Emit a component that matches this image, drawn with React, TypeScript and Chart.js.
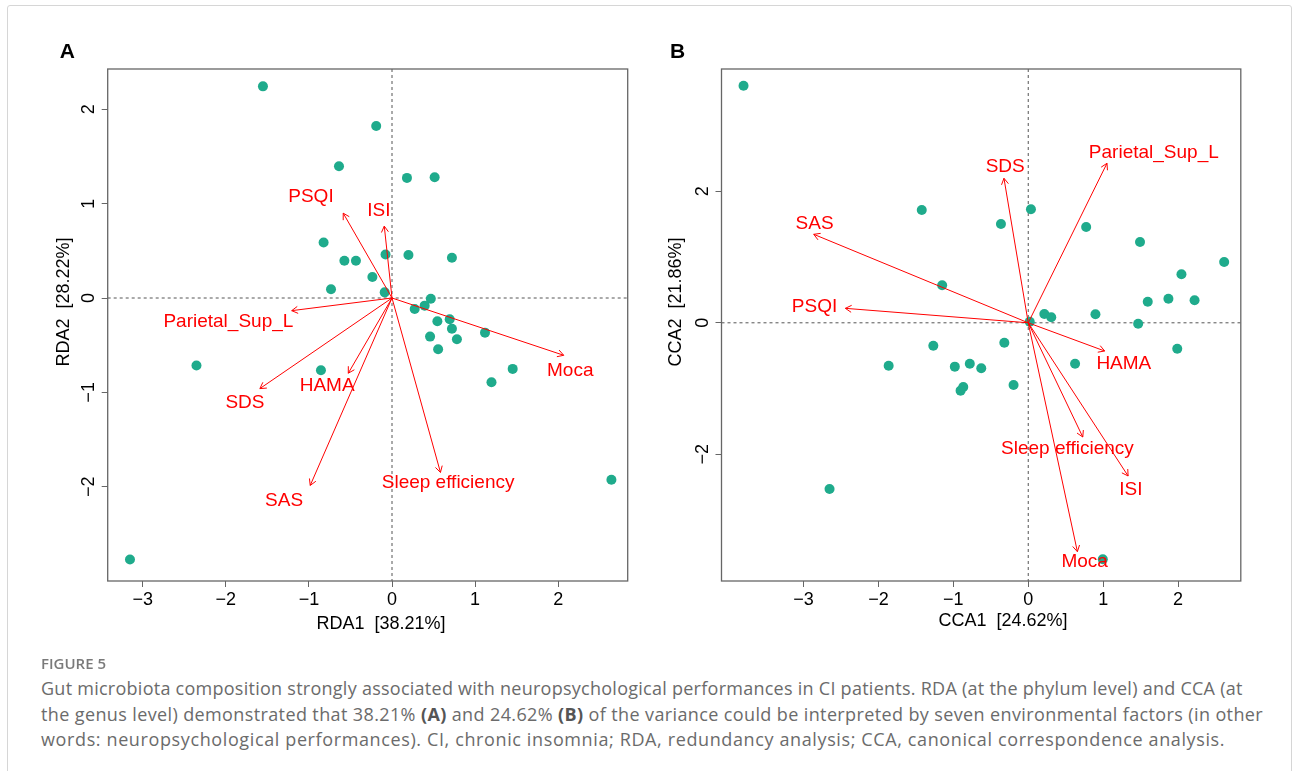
import React, { useEffect, useRef } from "react";
import { Chart, registerables } from "chart.js";

Chart.register(...registerables);

// ---------- DATA ----------
const envNames = ["PSQI", "ISI", "Parietal_Sup_L", "SDS", "HAMA", "SAS", "Sleep efficiency", "Moca"];

// Panel A: RDA (phylum level)
const rdaSiteX = [-1.553, -0.19, -0.638, 0.18, 0.513, -0.823, -0.078, 0.198, 0.721, -0.573, -0.434, -0.236, -0.734, -0.088, 0.467, 0.393, 0.273, 0.546, 0.694, 0.721, 1.119, 0.458, 0.781, 0.555, 1.452, 1.197, -0.855, -2.353, 2.64, -3.153];
const rdaSiteY = [2.243, 1.823, 1.397, 1.273, 1.28, 0.589, 0.462, 0.455, 0.427, 0.395, 0.395, 0.222, 0.092, 0.06, -0.007, -0.081, -0.116, -0.247, -0.226, -0.325, -0.367, -0.409, -0.437, -0.543, -0.751, -0.892, -0.765, -0.716, -1.926, -2.772];
const rdaArrowX = [-0.587, -0.093, -1.207, -1.59, -0.526, -0.984, 0.583, 2.066];
const rdaArrowY = [0.899, 0.762, -0.134, -0.96, -0.797, -1.986, -1.848, -0.607];
const rdaLabelX = [-0.975, -0.157, -1.969, -1.77, -0.781, -1.299, 0.675, 2.145];
const rdaLabelY = [1.072, 0.921, -0.25, -1.108, -0.928, -2.148, -1.961, -0.772];
const rdaXTicks = [-3, -2, -1, 0, 1, 2];
const rdaYTicks = [-2, -1, 0, 1, 2];

// Panel B: CCA (genus level)
const ccaSiteX = [-3.8, -1.421, 0.036, -0.364, 0.773, 1.492, 2.615, 2.045, -1.149, 1.595, 1.871, 2.22, 0.897, 0.215, 0.307, 1.467, 0.02, -1.267, -0.319, -1.863, -0.98, -0.78, -0.627, 0.625, 1.989, -0.196, -0.867, -0.903, -2.652, 0.995];
const ccaSiteY = [3.606, 1.716, 1.726, 1.503, 1.457, 1.229, 0.925, 0.737, 0.57, 0.321, 0.367, 0.342, 0.129, 0.134, 0.084, -0.014, 0.017, -0.348, -0.303, -0.652, -0.667, -0.622, -0.692, -0.622, -0.394, -0.946, -0.976, -1.032, -2.528, -3.597];
const ccaArrowX = [-2.441, 1.333, 1.051, -0.324, 1.02, -2.863, 0.728, 0.656];
const ccaArrowY = [0.22, -2.33, 2.426, 2.198, -0.429, 1.346, -1.737, -3.481];
const ccaLabelX = [-2.852, 1.369, 1.676, -0.308, 1.276, -2.852, 0.523, 0.753];
const ccaLabelY = [0.245, -2.533, 2.587, 2.374, -0.617, 1.503, -1.909, -3.633];
const ccaXTicks = [-3, -2, -1, 0, 1, 2];
const ccaYTicks = [-2, 0, 2];

// ---------- STYLE ----------
const POINT_COLOR = "#1fab8c";
const ARROW_COLOR = "#ff0000";
const AXIS_COLOR = "#666666";
const FONT = "'Liberation Sans', Arial, Helvetica, sans-serif";

type PanelCfg = {
  letter: string;
  xTitle: string;
  yTitle: string;
  left: number;
  top: number;
  width: number;
  height: number;
  padRight: number;
  yAxisWidth: number;
  xMin: number;
  xMax: number;
  yMin: number;
  yMax: number;
  siteX: number[];
  siteY: number[];
  arrowX: number[];
  arrowY: number[];
  labelX: number[];
  labelY: number[];
  xTicks: number[];
  yTicks: number[];
  letterPos: [number, number];
  xTitlePos: [number, number];
  yTitlePos: [number, number];
};

const panels: PanelCfg[] = [
  {
    letter: "A",
    xTitle: "RDA1  [38.21%]",
    yTitle: "RDA2  [28.22%]",
    left: 20,
    top: 20,
    width: 630,
    height: 640,
    padRight: 22.3,
    yAxisWidth: 87.7,
    xMin: -3.421,
    xMax: 2.836,
    yMin: -2.999,
    yMax: 2.427,
    siteX: rdaSiteX,
    siteY: rdaSiteY,
    arrowX: rdaArrowX,
    arrowY: rdaArrowY,
    labelX: rdaLabelX,
    labelY: rdaLabelY,
    xTicks: rdaXTicks,
    yTicks: rdaYTicks,
    letterPos: [47.3, 58 - 20],
    xTitlePos: [361, 604],
    yTitlePos: [44, 282],
  },
  {
    letter: "B",
    xTitle: "CCA1  [24.62%]",
    yTitle: "CCA2  [21.86%]",
    left: 660,
    top: 20,
    width: 620,
    height: 640,
    padRight: 39.2,
    yAxisWidth: 61.5,
    xMin: -4.094,
    xMax: 2.837,
    yMin: -3.927,
    yMax: 3.86,
    siteX: ccaSiteX,
    siteY: ccaSiteY,
    arrowX: ccaArrowX,
    arrowY: ccaArrowY,
    labelX: ccaLabelX,
    labelY: ccaLabelY,
    xTicks: ccaXTicks,
    yTicks: ccaYTicks,
    letterPos: [17.7, 57.5 - 20],
    xTitlePos: [343, 601],
    yTitlePos: [16, 282],
  },
];

const fmt = (v: number) => (v < 0 ? "\u2212" + Math.abs(v) : String(v));

function Panel({ cfg }: { cfg: PanelCfg }) {
  const ref = useRef<HTMLCanvasElement | null>(null);

  useEffect(() => {
    if (!ref.current) return;

    const decor = {
      id: "ordDecor",
      beforeDatasetsDraw(chart: any) {
        const { ctx, chartArea } = chart;
        const xs = chart.scales.x;
        const ys = chart.scales.y;
        const x0 = xs.getPixelForValue(0);
        const y0 = ys.getPixelForValue(0);
        ctx.save();
        ctx.strokeStyle = "#555555";
        ctx.lineWidth = 1;
        ctx.setLineDash([3, 3]);
        ctx.beginPath();
        ctx.moveTo(chartArea.left, y0);
        ctx.lineTo(chartArea.right, y0);
        ctx.moveTo(x0, chartArea.top);
        ctx.lineTo(x0, chartArea.bottom);
        ctx.stroke();
        ctx.restore();
      },
      afterDatasetsDraw(chart: any) {
        const { ctx, chartArea } = chart;
        const xs = chart.scales.x;
        const ys = chart.scales.y;
        const ox = xs.getPixelForValue(0);
        const oy = ys.getPixelForValue(0);
        ctx.save();
        // arrow heads
        ctx.strokeStyle = ARROW_COLOR;
        ctx.lineWidth = 1;
        const headLen = 7;
        const headAng = Math.PI / 6;
        cfg.arrowX.forEach((ax, i) => {
          const tx = xs.getPixelForValue(ax);
          const ty = ys.getPixelForValue(cfg.arrowY[i]);
          const ang = Math.atan2(ty - oy, tx - ox);
          ctx.beginPath();
          ctx.moveTo(tx - headLen * Math.cos(ang - headAng), ty - headLen * Math.sin(ang - headAng));
          ctx.lineTo(tx, ty);
          ctx.lineTo(tx - headLen * Math.cos(ang + headAng), ty - headLen * Math.sin(ang + headAng));
          ctx.stroke();
        });
        // labels
        ctx.fillStyle = ARROW_COLOR;
        ctx.font = `19px ${FONT}`;
        ctx.textAlign = "center";
        ctx.textBaseline = "middle";
        envNames.forEach((name, i) => {
          ctx.fillText(name, xs.getPixelForValue(cfg.labelX[i]), ys.getPixelForValue(cfg.labelY[i]));
        });
        // frame
        ctx.strokeStyle = AXIS_COLOR;
        ctx.lineWidth = 1.3;
        ctx.strokeRect(chartArea.left, chartArea.top, chartArea.right - chartArea.left, chartArea.bottom - chartArea.top);
        ctx.restore();
      },
      afterDraw(chart: any) {
        const { ctx, chartArea } = chart;
        const ys = chart.scales.y;
        ctx.save();
        ctx.fillStyle = "#000000";
        // rotated y tick labels
        ctx.font = `18px ${FONT}`;
        ctx.textAlign = "center";
        ctx.textBaseline = "middle";
        ys.ticks.forEach((t: any) => {
          const py = ys.getPixelForValue(t.value);
          ctx.save();
          ctx.translate(chartArea.left - 18.5, py);
          ctx.rotate(-Math.PI / 2);
          ctx.fillText(fmt(t.value), 0, 0);
          ctx.restore();
        });
        // axis titles
        ctx.font = `18px ${FONT}`;
        ctx.fillText(cfg.xTitle, cfg.xTitlePos[0], cfg.xTitlePos[1]);
        ctx.save();
        ctx.translate(cfg.yTitlePos[0], cfg.yTitlePos[1]);
        ctx.rotate(-Math.PI / 2);
        ctx.fillText(cfg.yTitle, 0, 0);
        ctx.restore();
        // panel letter
        ctx.font = `bold 21px ${FONT}`;
        ctx.textBaseline = "alphabetic";
        ctx.fillText(cfg.letter, cfg.letterPos[0], cfg.letterPos[1]);
        ctx.restore();
      },
    };

    const siteData = cfg.siteX.map((x, i) => ({ x, y: cfg.siteY[i] }));
    const arrowSets = cfg.arrowX.map((ax, i) => ({
      type: "scatter" as const,
      label: envNames[i],
      data: [
        { x: 0, y: 0 },
        { x: ax, y: cfg.arrowY[i] },
      ],
      showLine: true,
      borderColor: ARROW_COLOR,
      borderWidth: 1,
      pointRadius: 0,
      order: 1,
    }));

    const chart = new Chart(ref.current, {
      type: "scatter",
      data: {
        datasets: [
          {
            label: "sites",
            data: siteData,
            pointRadius: 5,
            pointBackgroundColor: POINT_COLOR,
            pointBorderWidth: 0,
            borderColor: POINT_COLOR,
            order: 10,
          } as any,
          ...arrowSets,
        ],
      },
      options: {
        animation: false,
        responsive: false,
        devicePixelRatio: 1,
        events: [],
        layout: { padding: { left: 0, top: 49, right: cfg.padRight, bottom: 39 } },
        plugins: { legend: { display: false }, tooltip: { enabled: false } },
        scales: {
          x: {
            type: "linear",
            position: "bottom",
            min: cfg.xMin,
            max: cfg.xMax,
            afterBuildTicks: (s: any) => {
              s.ticks = cfg.xTicks.map((v) => ({ value: v }));
            },
            afterFit: (s: any) => {
              s.height = 40;
            },
            grid: {
              display: true,
              drawOnChartArea: false,
              drawTicks: true,
              tickLength: 6,
              tickColor: AXIS_COLOR,
              color: AXIS_COLOR,
              lineWidth: 1,
            },
            border: { display: false },
            ticks: {
              color: "#000000",
              font: { family: FONT, size: 18 },
              padding: 2,
              maxRotation: 0,
              minRotation: 0,
              autoSkip: false,
              callback: (v: any) => fmt(Number(v)),
            },
          },
          y: {
            type: "linear",
            position: "left",
            min: cfg.yMin,
            max: cfg.yMax,
            afterBuildTicks: (s: any) => {
              s.ticks = cfg.yTicks.map((v) => ({ value: v }));
            },
            afterFit: (s: any) => {
              s.width = cfg.yAxisWidth;
            },
            grid: {
              display: true,
              drawOnChartArea: false,
              drawTicks: true,
              tickLength: 6,
              tickColor: AXIS_COLOR,
              color: AXIS_COLOR,
              lineWidth: 1,
            },
            border: { display: false },
            ticks: { display: false, autoSkip: false },
          },
        },
      } as any,
      plugins: [decor],
    });
    return () => chart.destroy();
  }, [cfg]);

  return (
    <canvas
      ref={ref}
      width={cfg.width}
      height={cfg.height}
      style={{ position: "absolute", left: cfg.left, top: cfg.top, width: cfg.width, height: cfg.height }}
    />
  );
}

const captionStyle: React.CSSProperties = {
  position: "absolute",
  left: 41,
  fontFamily: "'Open Sans', 'Noto Sans', sans-serif",
  fontSize: 18,
  lineHeight: "25.5px",
  color: "#6b6b6b",
  whiteSpace: "nowrap",
};

export default function App() {
  return (
    <div style={{ position: "absolute", left: 0, top: 0, width: 1293, height: 771, background: "#fff", overflow: "hidden" }}>
      <div
        style={{
          position: "absolute",
          left: 7,
          top: 5,
          width: 1285,
          height: 900,
          border: "1px solid #d6d6d6",
          borderRadius: 3,
          boxSizing: "border-box",
        }}
      />
      {panels.map((p) => (
        <Panel key={p.letter} cfg={p} />
      ))}
      <div
        style={{
          position: "absolute",
          left: 41,
          top: 654,
          fontFamily: "'Open Sans', 'Noto Sans', sans-serif",
          fontSize: 15,
          lineHeight: "18px",
          fontWeight: 600,
          color: "#7a7a7a",
          whiteSpace: "nowrap",
        }}
      >
        FIGURE 5
      </div>
      <div style={{ ...captionStyle, top: 676, letterSpacing: 0.26 }}>
        Gut microbiota composition strongly associated with neuropsychological performances in CI patients. RDA (at the phylum level) and CCA (at
      </div>
      <div style={{ ...captionStyle, top: 701.5, letterSpacing: 0.38 }}>
        the genus level) demonstrated that 38.21% <b style={{ color: "#555" }}>(A)</b> and 24.62% <b style={{ color: "#555" }}>(B)</b> of the variance could be interpreted by seven environmental factors (in other
      </div>
      <div style={{ ...captionStyle, top: 727, letterSpacing: 0.62 }}>
        words: neuropsychological performances). CI, chronic insomnia; RDA, redundancy analysis; CCA, canonical correspondence analysis.
      </div>
    </div>
  );
}
